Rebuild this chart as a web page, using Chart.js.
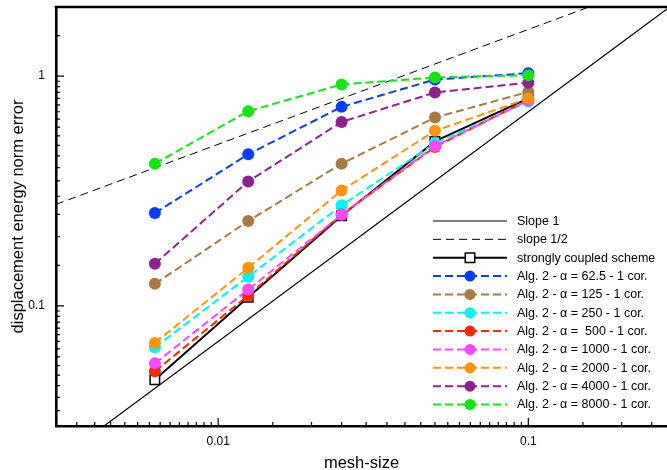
<!DOCTYPE html>
<html><head><meta charset="utf-8">
<script src="https://cdn.jsdelivr.net/npm/chart.js@4"></script>
<style>html,body{margin:0;padding:0;background:#fff}canvas{display:block}</style>
</head><body>
<canvas id="c" width="667" height="470"></canvas>
<script>
// ---- data ----
const meshSize = [0.00625, 0.0125, 0.025, 0.05, 0.1];
const stronglyCoupled = [0.0477, 0.109, 0.247, 0.52, 0.80];
const alpha62_5 = [0.2535, 0.457, 0.735, 0.967, 1.03];
const alpha125  = [0.1247, 0.234, 0.416, 0.66, 0.854];
const alpha250  = [0.066, 0.134, 0.274, 0.51, 0.775];
const alpha500  = [0.0519, 0.111, 0.25, 0.492, 0.79];
const alpha1000 = [0.0562, 0.1178, 0.249, 0.497, 0.783];
const alpha2000 = [0.069, 0.1465, 0.318, 0.578, 0.80];
const alpha4000 = [0.1525, 0.348, 0.632, 0.849, 0.937];
const alpha8000 = [0.416, 0.704, 0.92, 0.987, 1.01];
const slope1X = [0.003, 0.3];
const slope1Y = [0.021, 2.1];
const slopeHalfX = [0.003, 0.3];
const slopeHalfY = [0.2766, 2.766];
const legendLabels = ['Slope 1', 'slope 1/2', 'strongly coupled scheme',
  'Alg. 2 - \u03b1 = 62.5 - 1 cor.', 'Alg. 2 - \u03b1 = 125 - 1 cor.', 'Alg. 2 - \u03b1 = 250 - 1 cor.',
  'Alg. 2 - \u03b1 =  500 - 1 cor.', 'Alg. 2 - \u03b1 = 1000 - 1 cor.', 'Alg. 2 - \u03b1 = 2000 - 1 cor.',
  'Alg. 2 - \u03b1 = 4000 - 1 cor.', 'Alg. 2 - \u03b1 = 8000 - 1 cor.'];
const xMajorTicks = [0.01, 0.1];
const xTickLabels = ['0.01', '0.1'];
const xMinorTicks = [0.0035,0.004,0.0045,0.005,0.0055,0.006,0.0065,0.007,0.0075,0.008,0.0085,0.009,0.0095,
  0.015,0.02,0.025,0.03,0.035,0.04,0.045,0.05,0.055,0.06,0.065,0.07,0.075,0.08,0.085,0.09,0.095,
  0.15,0.2,0.25];
const yMajorTicks = [0.1, 1];
const yTickLabels = ['0.1', '1'];
const yMinorTicks = [0.035,0.04,0.045,0.05,0.055,0.06,0.065,0.07,0.075,0.08,0.085,0.09,0.095,
  0.15,0.2,0.25,0.3,0.35,0.4,0.45,0.5,0.55,0.6,0.65,0.7,0.75,0.8,0.85,0.9,0.95,1.5];

// ---- build ----
const pts = (xs, ys) => xs.map((x, i) => ({x, y: ys[i]}));
const FONT = "'Liberation Sans', Arial, Helvetica, sans-serif";
Chart.defaults.font.family = FONT;
Chart.defaults.color = '#000';

const series = [
  {data: pts(slope1X, slope1Y), color: '#000', width: 1.2, dash: [], radius: 0},
  {data: pts(slopeHalfX, slopeHalfY), color: '#000', width: 1, dash: [8, 5], radius: 0},
  {data: pts(meshSize, stronglyCoupled), color: '#000', width: 2, dash: [], radius: 6.7, style: 'rect', fill: '#fff'},
  {data: pts(meshSize, alpha62_5), color: '#0a3cff'},
  {data: pts(meshSize, alpha125), color: '#a87944'},
  {data: pts(meshSize, alpha250), color: '#00f4f4'},
  {data: pts(meshSize, alpha500), color: '#ff2800'},
  {data: pts(meshSize, alpha1000), color: '#ff48ff'},
  {data: pts(meshSize, alpha2000), color: '#ff9408'},
  {data: pts(meshSize, alpha4000), color: '#8c2290'},
  {data: pts(meshSize, alpha8000), color: '#14e614'}
];
const datasets = series.map((s, i) => ({
  label: legendLabels[i],
  data: s.data,
  borderColor: s.color,
  borderWidth: s.width ?? 2,
  borderDash: s.dash ?? [8, 4],
  pointRadius: s.radius ?? 6,
  pointHoverRadius: s.radius ?? 6,
  pointStyle: s.style ?? 'circle',
  pointBackgroundColor: s.fill ?? s.color,
  pointBorderColor: s.style ? '#000' : s.color,
  pointBorderWidth: s.style ? 1.5 : 0,
  tension: 0,
  fill: false,
  order: 100 - i
}));

const tickPlugin = {
  id: 'ticksAndFrame',
  afterDraw(chart) {
    const {ctx, chartArea: a, scales: {x, y}} = chart;
    ctx.save();
    ctx.strokeStyle = '#000';
    ctx.lineWidth = 1.2;
    ctx.beginPath();
    const xt = (v, len) => { const p = x.getPixelForValue(v); ctx.moveTo(p, a.bottom); ctx.lineTo(p, a.bottom - len); };
    const yt = (v, len) => { const p = y.getPixelForValue(v); ctx.moveTo(a.left, p); ctx.lineTo(a.left + len, p); };
    xMajorTicks.forEach(v => xt(v, 8)); xMinorTicks.forEach(v => xt(v, 4));
    yMajorTicks.forEach(v => yt(v, 8)); yMinorTicks.forEach(v => yt(v, 4));
    ctx.stroke();
    ctx.lineWidth = 2.6;
    ctx.beginPath(); ctx.moveTo(a.left - 1.3, a.top); ctx.lineTo(a.right + 2, a.top); ctx.stroke();
    ctx.restore();
  }
};

const legendPlugin = {
  id: 'insideLegend',
  afterDraw(chart) {
    const ctx = chart.ctx;
    const x0 = 433, x1 = 507, xm = 470, xt = 517, y0 = 221, dy = 18.35;
    ctx.save();
    chart.data.datasets.forEach((d, i) => {
      const yy = y0 + i * dy;
      ctx.strokeStyle = d.borderColor;
      ctx.lineWidth = d.borderWidth;
      ctx.setLineDash(d.borderDash);
      ctx.beginPath(); ctx.moveTo(x0, yy); ctx.lineTo(x1, yy); ctx.stroke();
      ctx.setLineDash([]);
      if (d.pointRadius > 0) {
        ctx.fillStyle = d.pointBackgroundColor;
        ctx.strokeStyle = d.pointBorderColor;
        ctx.lineWidth = d.pointBorderWidth;
        const r = d.pointStyle === 'rect' ? d.pointRadius : 5.5;
        Chart.helpers.drawPoint(ctx, {pointStyle: d.pointStyle, radius: r, borderWidth: d.pointBorderWidth, rotation: 0}, xm, yy);
      }
      ctx.fillStyle = '#000';
      ctx.font = '12.5px ' + FONT;
      ctx.textAlign = 'left';
      ctx.textBaseline = 'middle';
      ctx.fillText(d.label, xt, yy + 0.5);
    });
    ctx.restore();
  }
};

const zeroPad = s => { s.paddingTop = 0; s.paddingBottom = 0; s.paddingLeft = 0; s.paddingRight = 0; };

new Chart(document.getElementById('c'), {
  type: 'line',
  data: {datasets},
  options: {
    responsive: false,
    animation: false,
    events: [],
    layout: {autoPadding: false, padding: {top: 7, right: 0, left: 0, bottom: 0}},
    plugins: {legend: {display: false}, tooltip: {enabled: false}},
    scales: {
      x: {
        type: 'logarithmic', min: 0.003, max: 0.28,
        afterFit: s => { s.height = 44; zeroPad(s); },
        afterBuildTicks: s => { s.ticks = xMajorTicks.map(v => ({value: v})); },
        ticks: {callback: (v) => xTickLabels[xMajorTicks.indexOf(v)] ?? '', font: {size: 12}, padding: 8, maxRotation: 0, autoSkip: false},
        grid: {display: false, drawTicks: false},
        border: {display: true, color: '#000', width: 2.6},
        title: {display: true, text: 'mesh-size', font: {size: 16.5, lineHeight: 1}, padding: {top: 0, bottom: -2}}
      },
      y: {
        type: 'logarithmic', min: 0.03, max: 2,
        afterFit: s => { s.width = 56; zeroPad(s); },
        afterBuildTicks: s => { s.ticks = yMajorTicks.map(v => ({value: v})); },
        ticks: {callback: (v) => yTickLabels[yMajorTicks.indexOf(v)] ?? '', font: {size: 12}, padding: 11, autoSkip: false},
        grid: {display: false, drawTicks: false},
        border: {display: true, color: '#000', width: 2.6},
        title: {display: true, text: 'displacement energy norm error', font: {size: 16.5, lineHeight: 1}, padding: {top: 10.5, bottom: 0}}
      }
    }
  },
  plugins: [tickPlugin, legendPlugin]
});
</script>
</body></html>
